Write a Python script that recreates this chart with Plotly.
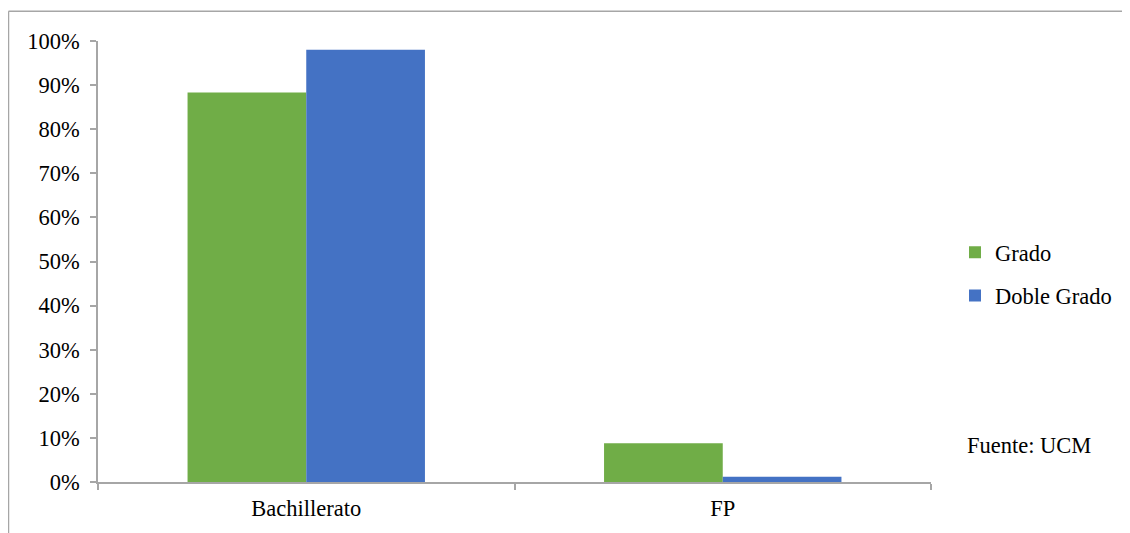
import plotly.graph_objects as go

categories = ["Bachillerato", "FP"]
grado = [88.3, 8.8]
doble_grado = [98.0, 1.2]
series_names = ["Grado", "Doble Grado"]
colors = ["#70AD47", "#4472C4"]
source_text = "Fuente: UCM"

OFF = 8  # page body margin
W, H = 1130 - OFF, 533 - OFF
L, R, T, B = 98 - OFF, 931 - OFF, 40.7 - OFF, 482 - OFF
pw, ph = R - L, B - T

def px(x):
    return (x - OFF - L) / pw

def py(y):
    return (B - (y - OFF)) / ph

fig = go.Figure()
for name, vals, col, grp in zip(series_names, [grado, doble_grado], colors, ["g1", "g2"]):
    fig.add_trace(go.Bar(x=categories, y=vals, name=name, marker_color=col,
                         marker_line_width=0, legendgroup=grp))

font_family = "Liberation Serif"
fs = 22.5
axis_col = "#A6A6A6"

fig.update_layout(
    width=W, height=H,
    margin=dict(l=L, r=W - R, t=T, b=H - B, autoexpand=False),
    paper_bgcolor="white", plot_bgcolor="white",
    barmode="group", bargap=0.43, bargroupgap=0,
    font=dict(family=font_family, size=fs, color="#000000"),
    showlegend=True,
    legend=dict(x=px(955), y=py(231), xanchor="left", yanchor="top",
                font=dict(family=font_family, size=fs, color="#000000"),
                traceorder="grouped", tracegroupgap=11, itemwidth=30,
                bgcolor="rgba(0,0,0,0)"),
    xaxis=dict(range=[-0.5, 1.5], showline=True, linecolor=axis_col, linewidth=1.5,
               ticks="outside", tickson="boundaries", ticklen=6, tickcolor=axis_col,
               tickwidth=1.5, showgrid=False, zeroline=False, ticklabelstandoff=5,
               tickfont=dict(family=font_family, size=fs, color="#000000")),
    yaxis=dict(range=[0, 100], dtick=10, ticksuffix="%", showline=True,
               linecolor=axis_col, linewidth=1.5, ticks="outside", ticklen=6,
               tickcolor=axis_col, tickwidth=1.5, showgrid=False, zeroline=False,
               ticklabelstandoff=6,
               tickfont=dict(family=font_family, size=fs, color="#000000")),
    annotations=[dict(text=source_text, x=px(965), y=py(445), xref="paper", yref="paper",
                      xanchor="left", yanchor="middle", showarrow=False,
                      font=dict(family=font_family, size=fs, color="#000000"))],
    shapes=[
        dict(type="line", xref="paper", yref="paper", x0=px(8.5), x1=px(8.5), y0=py(11), y1=py(540),
             line=dict(color=axis_col, width=1.5)),
        dict(type="line", xref="paper", yref="paper", x0=px(8.5), x1=px(1140), y0=py(11), y1=py(11),
             line=dict(color=axis_col, width=1.5)),
    ],
)

fig.write_html("out.html")
